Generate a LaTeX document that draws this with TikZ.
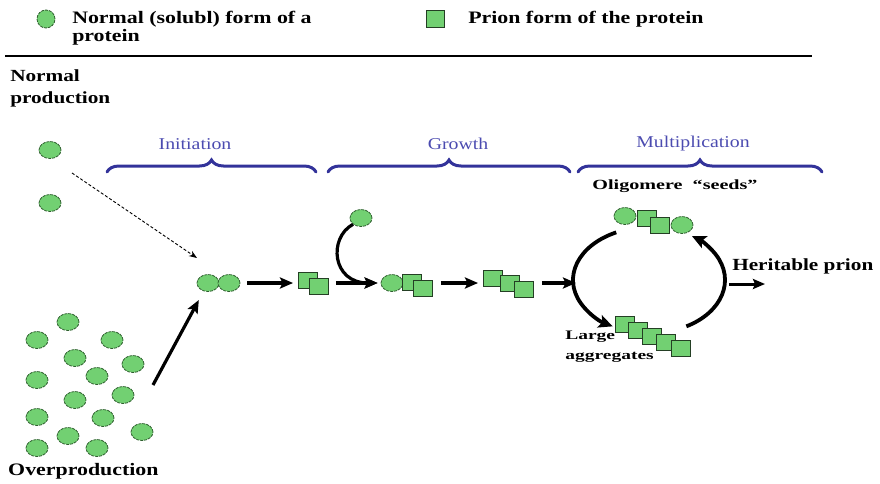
\documentclass[tikz,border=0pt]{standalone}
\usepackage{fontspec}
\setmainfont{Liberation Serif}
\usetikzlibrary{shapes.geometric,arrows.meta,decorations.pathreplacing,calc}
\definecolor{pfill}{HTML}{72D072}
\definecolor{pedge}{HTML}{2F5F2F}
\definecolor{sedge}{HTML}{243F24}
\definecolor{bracec}{HTML}{33339A}
\definecolor{phase}{HTML}{4B4BB0}
\tikzset{
  prot/.style={ellipse, minimum width=22pt, minimum height=17pt, inner sep=0pt,
    fill=pfill, draw=pedge, line width=0.8pt, dash pattern=on 3pt off 1pt},
  prion/.style={rectangle, minimum width=19pt, minimum height=16pt, inner sep=0pt,
    fill=pfill, draw=sedge, line width=0.9pt},
  arr/.style={line width=3.2pt, -{Stealth[length=13pt,width=11pt,inset=2.5pt]}},
  ringarr/.style={line width=3.8pt, -{Stealth[length=14pt,width=13pt,inset=3pt]}},
  thinarr/.style={line width=3pt, -{Stealth[length=12pt,width=10pt,inset=2pt]}},
  dotarr/.style={line width=0.9pt, densely dashed, -{Stealth[length=8pt,width=6pt]}},
  phasebrace/.style={draw=bracec, line width=3pt, line cap=round,
    decorate, decoration={brace, amplitude=12pt}},
  phaselbl/.style={text=phase, font=\fontsize{16.5}{18}\selectfont, xscale=1.2, inner sep=0pt},
  bold/.style={font=\fontsize{17.5}{18}\selectfont\bfseries, xscale=1.25, inner sep=0pt, align=left},
}
\begin{document}
\begin{tikzpicture}[x=1pt, y=-1pt]
\useasboundingbox (0,0) rectangle (880,484);

% legend
\node[prot, minimum width=18pt, minimum height=18pt] (lc) at (46,19) {};
\node[bold, anchor=north west] (lctext) at (72,11) {Normal (solubl) form of a\\protein};
\node[prion, minimum width=18pt, minimum height=17pt] (ls) at (435,19) {};
\node[bold, anchor=north west] (lstext) at (468,11) {Prion form of the protein};
\draw[line width=2.2pt] (5,56) coordinate (ruleL) -- (812,56) coordinate (ruleR);

% phase braces
\draw[phasebrace] (107,172) coordinate (b1a) -- (316,172) coordinate (b1b);
\node[phaselbl] (lInit) at (195,144) {Initiation};
\draw[phasebrace] (328,172) coordinate (b2a) -- (570,172) coordinate (b2b);
\node[phaselbl] (lGrow) at (458,144) {Growth};
\draw[phasebrace] (578,172) coordinate (b3a) -- (822,172) coordinate (b3b);
\node[phaselbl] (lMult) at (693,144) {Multiplication};

% normal production
\node[bold, font=\fontsize{17}{22}\selectfont\bfseries, anchor=north west] (tNormal) at (10,70) {Normal\\production};
\node[prot] (n1) at (50,150) {};
\node[prot] (n2) at (50,203) {};
\coordinate (dotS) at (72,173);
\coordinate (dotE) at (197,258);
\draw[dotarr] (dotS) -- (dotE);

% overproduction cluster
\foreach \i/\x/\y in {1/68/322, 2/37/340, 3/112/340, 4/75/358, 5/133/364,
    6/97/376, 7/37/380, 8/123/395, 9/75/400, 10/37/417, 11/103/418,
    12/142/432, 13/68/436, 14/37/448, 15/97/448}
  \node[prot] (o\i) at (\x,\y) {};
\node[bold, font=\fontsize{17.5}{20}\selectfont\bfseries, anchor=base west] (tOver) at (8,475) {Overproduction};

% initiation
\node[prot] (i1) at (208,283) {};
\node[prot] (i2) at (229,283) {};
\coordinate (ovS) at (153,385);
\draw[arr, shorten >=10pt] (ovS) -- (i1);
\node[prion] (q1) at (308,280) {};
\node[prion] (q2) at (319,286) {};
\draw[arr] ([xshift=7pt]i2.east) -- ([xshift=-5pt]i2.east -| q1.west);

% growth
\node[prot] (g0) at (361,218) {};
\node[prot] (g1) at (392,283) {};
\node[prion] (g2) at (412,282) {};
\node[prion] (g3) at (423,288) {};
\draw[arr] ([xshift=7pt]q2.east |- g1.west) -- ([xshift=-3pt]g1.west);
\draw[arr] (g0.south west) .. controls (328,238) and (332,283) .. ([xshift=-3pt]g1.west);

\node[prion] (h1) at (493,278) {};
\node[prion] (h2) at (510,283) {};
\node[prion] (h3) at (524,289) {};
\draw[arr] ([xshift=8pt]g3.east |- g1.east) -- ([xshift=-5pt]g1.east -| h1.west);

% multiplication cycle
\node[prot] (s1) at (625,216) {};
\node[prion] (s2) at (647,218) {};
\node[prion] (s3) at (660,225) {};
\node[prot] (s4) at (682,225) {};
\node[bold, font=\fontsize{14}{16}\selectfont\bfseries, xscale=1.15] (tSeeds) at (675,186) {Oligomere \ “seeds”};

\node[prion] (a1) at (625,324) {};
\node[prion] (a2) at (638,330) {};
\node[prion] (a3) at (652,336) {};
\node[prion] (a4) at (666,342) {};
\node[prion] (a5) at (681,348) {};
\node[bold, font=\fontsize{13}{20}\selectfont\bfseries, xscale=1.2, anchor=north west] (tLarge) at (565,331) {Large\\aggregates};

\coordinate (ringIn) at (576,283);
\draw[arr] ([xshift=8pt]h3.east |- g1.east) -- (ringIn);

\coordinate (ringL) at ($(650,280)+(244:77 and 53)$);
\draw[ringarr] (ringL) arc[start angle=244, end angle=119, x radius=77, y radius=53];
\coordinate (ringR) at ($(650,280)+(61:75 and 53)$);
\draw[ringarr] (ringR) arc[start angle=61, end angle=-56, x radius=75, y radius=53];

\coordinate (hS) at (729,284);
\coordinate (hE) at (765,284);
\draw[thinarr] (hS) -- (hE);
\node[bold, font=\fontsize{17}{20}\selectfont\bfseries, anchor=base west] (tHerit) at (732,270) {Heritable prion};
\end{tikzpicture}
\end{document}
